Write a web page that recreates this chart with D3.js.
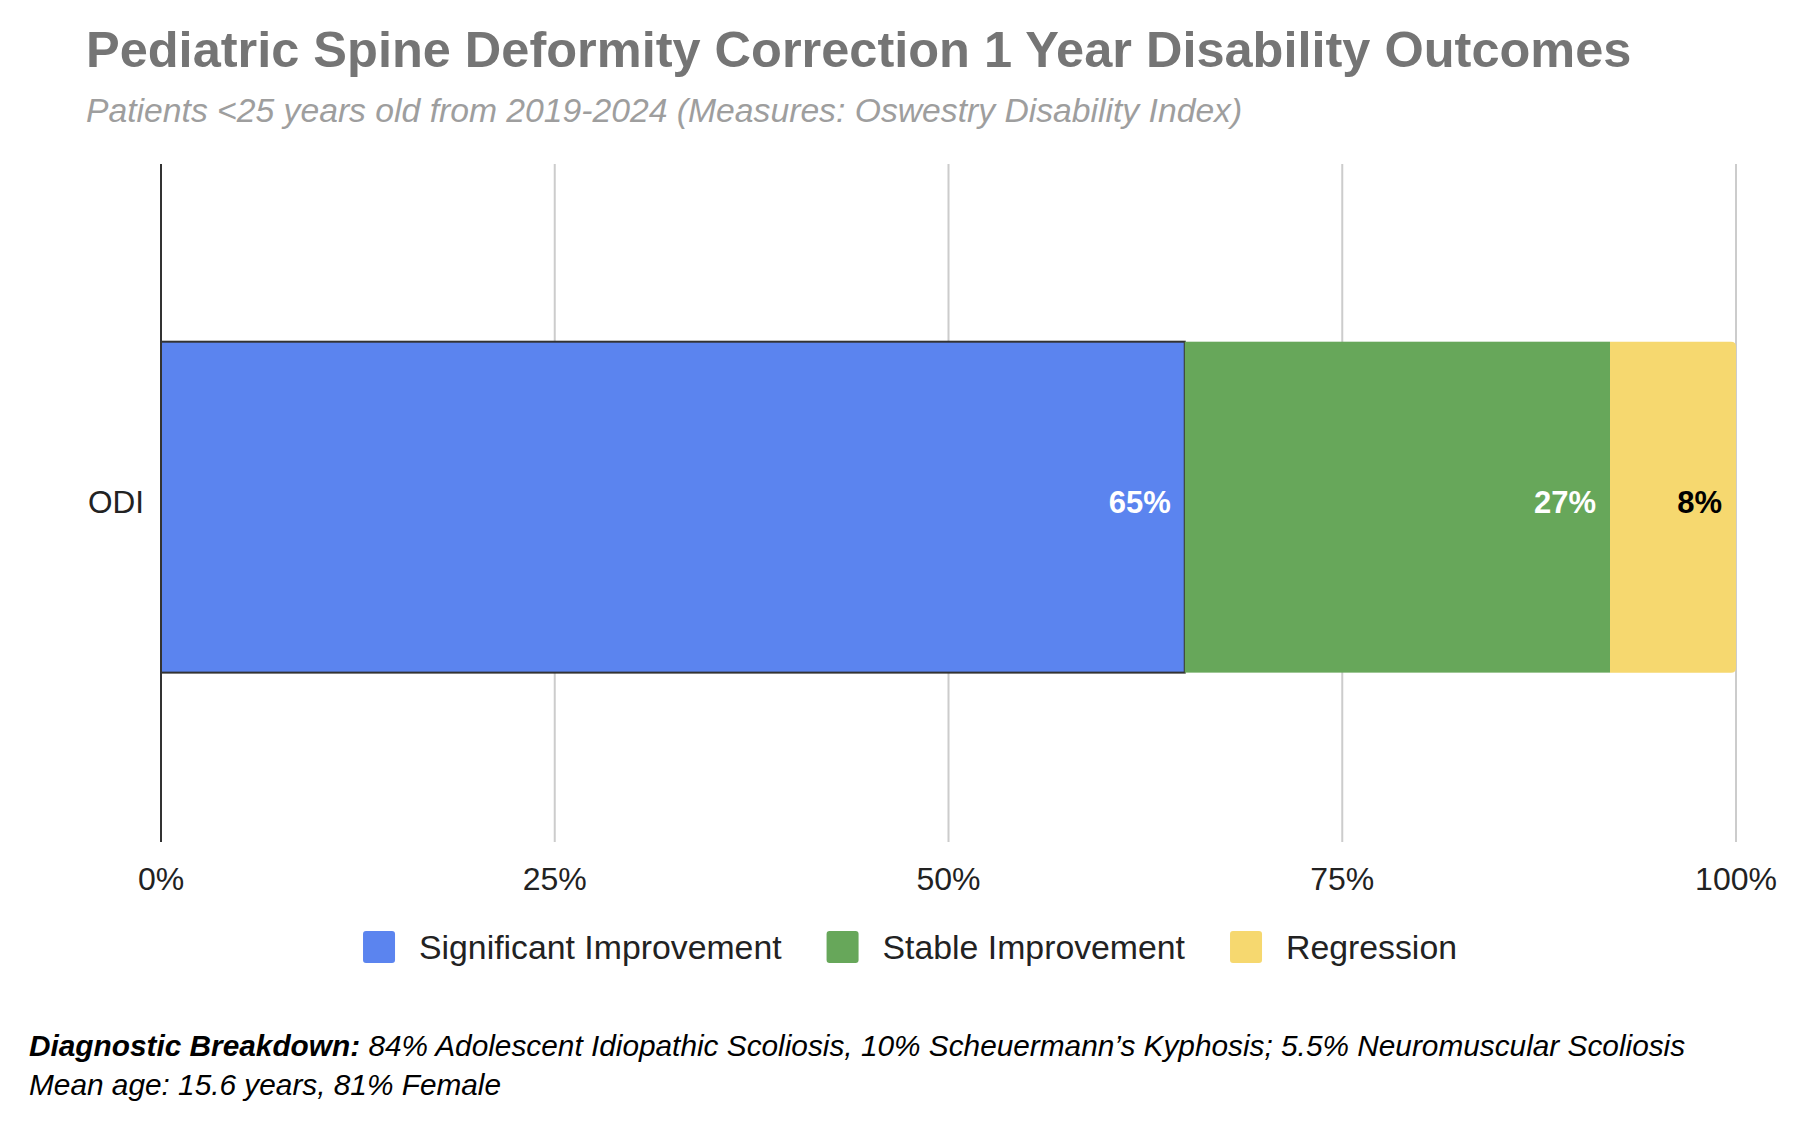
<!DOCTYPE html>
<html>
<head>
<meta charset="utf-8">
<script src="https://cdn.jsdelivr.net/npm/d3@7"></script>
<style>
  html, body { margin: 0; padding: 0; background: #fff; }
  svg { display: block; font-family: "Liberation Sans", Arial, sans-serif; }
</style>
</head>
<body>
<svg id="chart" width="1800" height="1133"></svg>
<script>
const categories = ["ODI"];
const seriesNames = ["Significant Improvement", "Stable Improvement", "Regression"];
const seriesValues = [65, 27, 8];
const seriesColors = ["#5b84ef", "#67a75a", "#f6d86f"];
const labelColors = ["#ffffff", "#ffffff", "#000000"];
const tickValues = [0, 25, 50, 75, 100];
const tickLabels = ["0%", "25%", "50%", "75%", "100%"];
const titleText = "Pediatric Spine Deformity Correction 1 Year Disability Outcomes";
const subtitleText = "Patients <25 years old from 2019-2024 (Measures: Oswestry Disability Index)";
const noteBold = "Diagnostic Breakdown:";
const noteLine1 = " 84% Adolescent Idiopathic Scoliosis, 10% Scheuermann\u2019s Kyphosis; 5.5% Neuromuscular Scoliosis";
const noteLine2 = "Mean age: 15.6 years, 81% Female";

const svg = d3.select("#chart");
const plot = { left: 161, right: 1736, top: 164, bottom: 842 };

const x = d3.scaleLinear().domain([0, 100]).range([plot.left, plot.right]);
const y = d3.scaleBand().domain(categories).range([plot.top, plot.bottom])
  .paddingInner(0.344).paddingOuter(0.344).align(0.512);

// Title / subtitle
svg.append("text").attr("x", 86).attr("y", 67)
  .attr("font-size", 50.5).attr("font-weight", "bold").attr("fill", "#757575")
  .text(titleText);
svg.append("text").attr("x", 86).attr("y", 122)
  .attr("font-size", 33.7).attr("font-style", "italic").attr("fill", "#9e9e9e")
  .text(subtitleText);

// Gridlines
svg.append("g").selectAll("line").data(tickValues.filter(d => d !== 0)).join("line")
  .attr("x1", d => x(d)).attr("x2", d => x(d))
  .attr("y1", plot.top).attr("y2", plot.bottom)
  .attr("stroke", "#cccccc").attr("stroke-width", 2);

// Stacked data
const stack = [];
let acc = 0;
seriesValues.forEach((v, i) => { stack.push({ i, x0: acc, x1: acc + v, v }); acc += v; });

const cat = categories[0];
const y0 = y(cat), bw = y.bandwidth();

const bars = svg.append("g");
stack.forEach((s, idx) => {
  const xa = x(s.x0), xb = x(s.x1);
  if (idx === stack.length - 1) {
    const r = 5;
    const p = `M${xa},${y0}H${xb - r}Q${xb},${y0} ${xb},${y0 + r}V${y0 + bw - r}Q${xb},${y0 + bw} ${xb - r},${y0 + bw}H${xa}Z`;
    bars.append("path").attr("d", p).attr("fill", seriesColors[s.i]);
  } else {
    const r = bars.append("rect").attr("x", xa).attr("y", y0)
      .attr("width", xb - xa).attr("height", bw).attr("fill", seriesColors[s.i]);
    if (idx === 0) r.attr("stroke", "#333333").attr("stroke-width", 2);
  }
});

// Value labels
svg.append("g").selectAll("text").data(stack).join("text")
  .attr("x", d => x(d.x1) - 14).attr("y", y0 + bw / 2).attr("dy", "0.2em")
  .attr("text-anchor", "end").attr("font-size", 31).attr("font-weight", "bold")
  .attr("fill", d => labelColors[d.i]).text(d => d.v + "%");

// Zero baseline
svg.append("line").attr("x1", x(0)).attr("x2", x(0))
  .attr("y1", plot.top).attr("y2", plot.bottom)
  .attr("stroke", "#333333").attr("stroke-width", 2);

// Category label
svg.append("g").selectAll("text").data(categories).join("text")
  .attr("x", 144).attr("y", d => y(d) + bw / 2).attr("dy", "0.2em")
  .attr("text-anchor", "end").attr("font-size", 31.5).attr("fill", "#222222").text(d => d);

// X axis tick labels
svg.append("g").selectAll("text").data(tickValues).join("text")
  .attr("x", d => x(d)).attr("y", 890).attr("text-anchor", "middle")
  .attr("font-size", 32).attr("fill", "#222222").text((d, i) => tickLabels[i]);

// Legend
const legend = svg.append("g");
const items = seriesNames.map((n, i) => {
  const g = legend.append("g");
  g.append("rect").attr("width", 32).attr("height", 32).attr("rx", 3).attr("fill", seriesColors[i]);
  const t = g.append("text").attr("x", 56).attr("y", 16).attr("dy", "0.35em")
    .attr("font-size", 33.8).attr("fill", "#222222").text(n);
  return { g, w: 56 + t.node().getComputedTextLength() };
});
const gap = 45;
const total = d3.sum(items, d => d.w) + gap * (items.length - 1);
let lx = 910 - total / 2;
items.forEach(it => { it.g.attr("transform", `translate(${lx},${947 - 16})`); lx += it.w + gap; });

// Footnote
const n1 = svg.append("text").attr("x", 29).attr("y", 1056).attr("font-size", 29.8)
  .attr("font-style", "italic").attr("fill", "#000");
n1.append("tspan").attr("font-weight", "bold").text(noteBold);
n1.append("tspan").text(noteLine1);
svg.append("text").attr("x", 29).attr("y", 1095).attr("font-size", 29.8)
  .attr("font-style", "italic").attr("fill", "#000").text(noteLine2);
</script>
</body>
</html>
